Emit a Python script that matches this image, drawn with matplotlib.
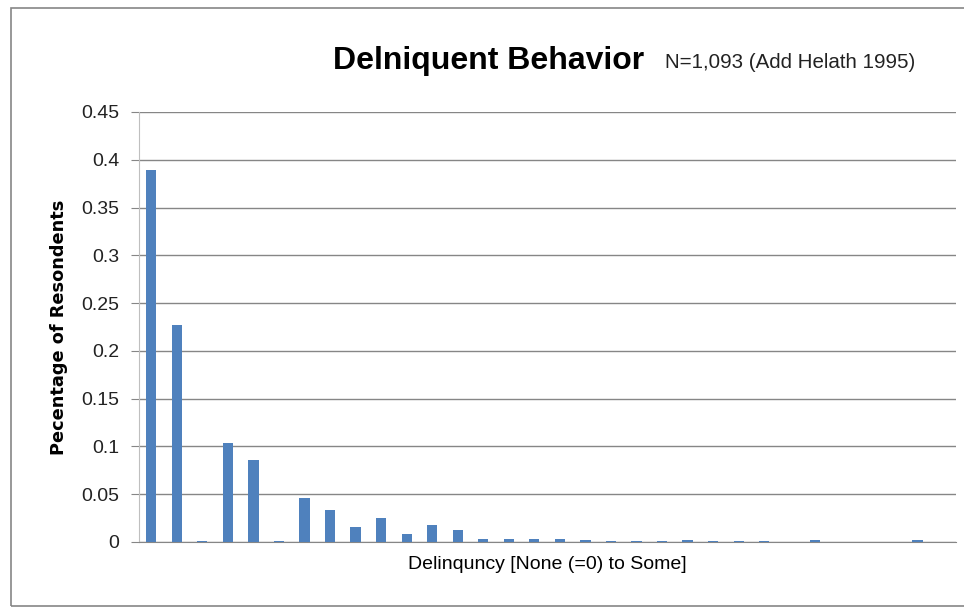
import matplotlib
matplotlib.use("Agg")
import matplotlib.pyplot as plt
from matplotlib.patches import Rectangle

categories = list(range(32))
values = [0.389, 0.227, 0.0009, 0.1036, 0.0858, 0.0009, 0.046, 0.0335,
          0.0157, 0.0251, 0.0084, 0.0178, 0.0126, 0.0031, 0.0031, 0.0031,
          0.0028, 0.0018, 0.0009, 0.0009, 0.0009, 0.0018, 0.0009, 0.0009,
          0.0009, 0.0, 0.0018, 0.0, 0.0, 0.0, 0.0018, 0.0]
yticks = [0, 0.05, 0.1, 0.15, 0.2, 0.25, 0.3, 0.35, 0.4, 0.45]
ytick_labels = ["0", "0.05", "0.1", "0.15", "0.2", "0.25", "0.3", "0.35", "0.4", "0.45"]

sans = ["Liberation Sans", "DejaVu Sans"]

W, H = 964, 607
fig = plt.figure(figsize=(W / 100, H / 100), dpi=100)
fig.patch.set_facecolor("white")

# outer chart border
fig.add_artist(Rectangle((11 / W, 1 - 606 / H), (970 - 11) / W, (606 - 8) / H,
                         transform=fig.transFigure, fill=False,
                         edgecolor="#868686", linewidth=1.2))

ax = fig.add_axes([138.5 / W, 1 - 542 / H, (955.7 - 138.5) / W, (542 - 112) / H])
ax.bar(categories, values, width=0.4, color="#4F81BD", zorder=3)
ax.set_xlim(-0.5, 31.5)
ax.set_ylim(0, 0.45)
ax.set_yticks(yticks)
ax.set_yticklabels(ytick_labels, fontfamily=sans, fontsize=14, color="#222222")
ax.set_xticks([])
ax.yaxis.grid(True, color="#868686", linewidth=1.0, zorder=0)
for s in ["top", "right"]:
    ax.spines[s].set_visible(False)
ax.spines["left"].set_color("#bfbfbf")
ax.spines["bottom"].set_color("#868686")
ax.tick_params(axis="y", length=6, color="#868686", pad=8)

ax.set_ylabel("Pecentage of Resondents", fontsize=12.8, fontweight="bold",
              labelpad=9, family=["DejaVu Sans"])
ax.set_xlabel("Delinquncy [None (=0) to Some]", fontsize=14, family=sans,
              labelpad=10)

fig.text(333 / W, 1 - 61 / H, "Delniquent Behavior", fontsize=23,
         fontweight="bold", family=sans, ha="left", va="center")
fig.text(665 / W, 1 - 62 / H, "N=1,093 (Add Helath 1995)", fontsize=14.8,
         family=sans, ha="left", va="center", color="#222222")

fig.savefig("out.png", dpi=100, facecolor="white")
